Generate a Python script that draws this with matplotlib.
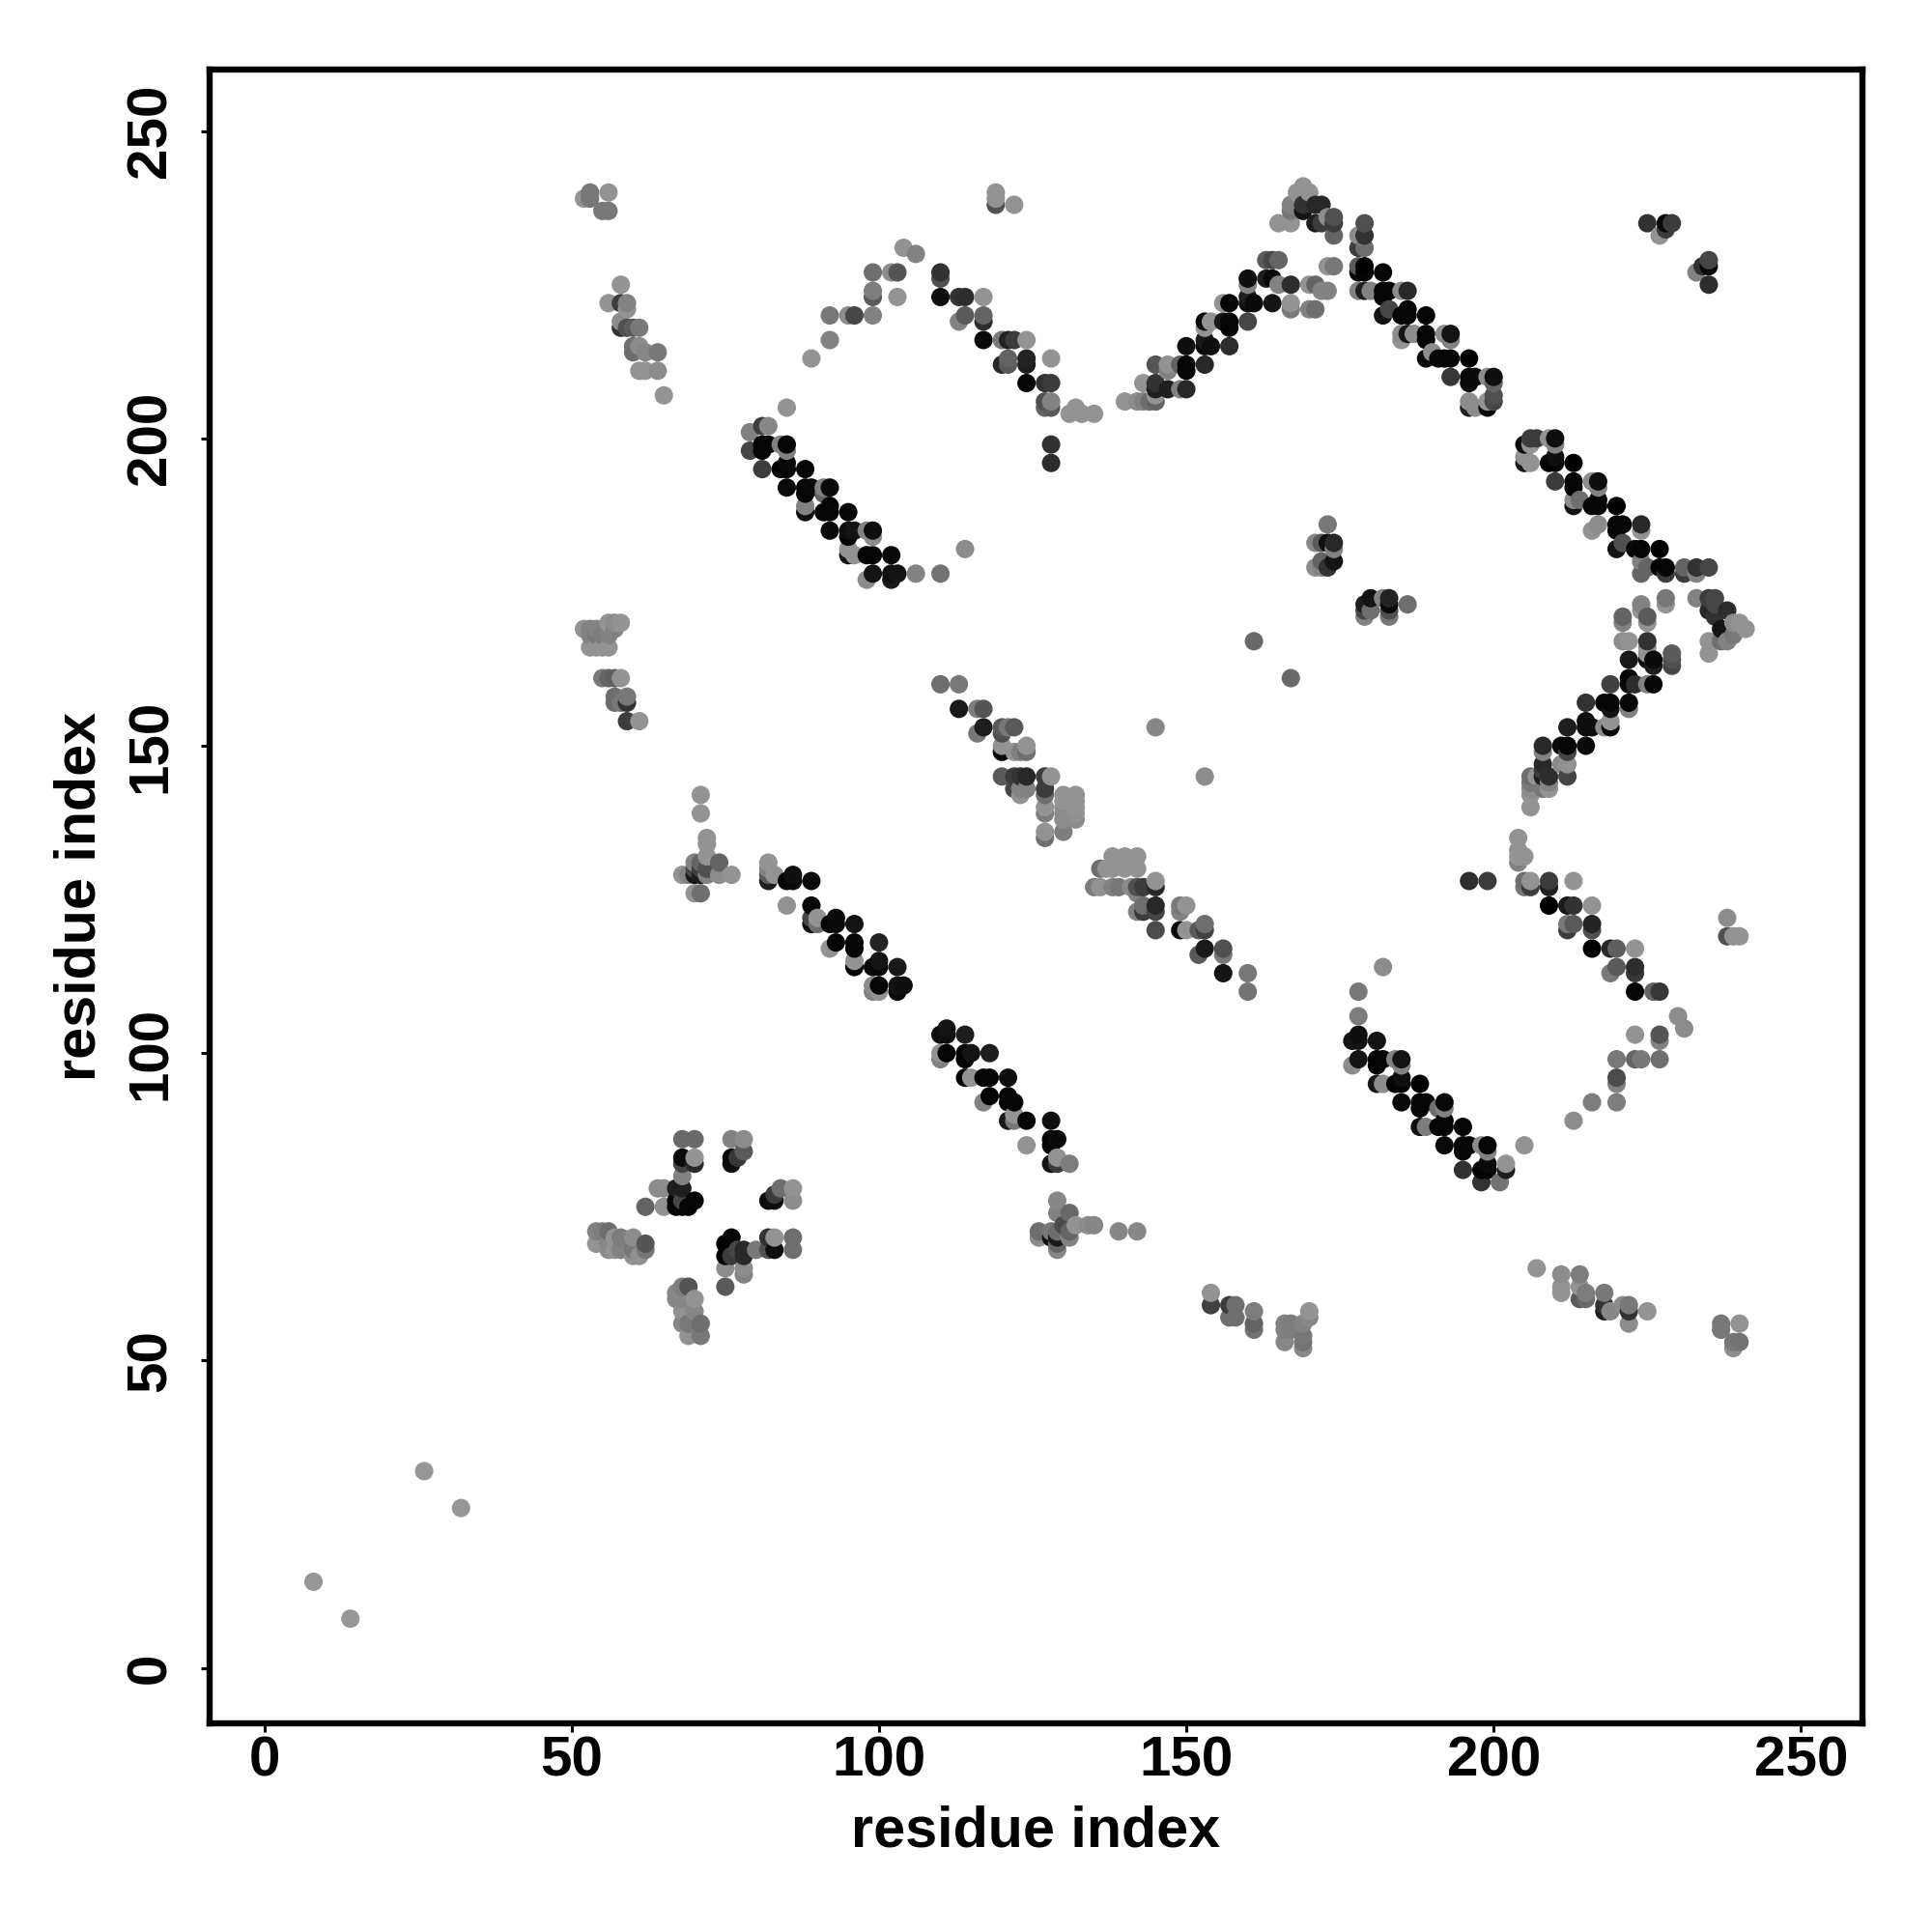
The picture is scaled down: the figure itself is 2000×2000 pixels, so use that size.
import numpy as np
import matplotlib
matplotlib.use('Agg')
import matplotlib.pyplot as plt

plt.rcParams['font.family'] = ['Liberation Sans', 'DejaVu Sans']

corner_x = [8, 14, 26, 32]
corner_y = [14, 8, 32, 26]
corner_g = [150, 150, 150, 150]

topleft_x = [52, 53, 53, 56, 55, 56, 58, 56, 58, 59, 59, 58, 58, 59, 60, 61, 60, 60, 61, 62, 64, 61, 62, 64, 65]
topleft_y = [239, 240, 239, 240, 237, 237, 225, 222, 222, 222, 221, 219, 218, 218, 218, 218, 215, 214, 215, 214, 214, 211, 211, 211, 207]
topleft_g = [147, 120, 120, 147, 120, 120, 147, 147, 60, 130, 147, 140, 50, 80, 90, 120, 110, 110, 140, 135, 120, 147, 147, 140, 147]

arc_x = [89, 92, 92, 95, 96, 99, 99, 99, 99, 102, 103, 103, 104, 106, 110, 110, 110, 113, 114, 117, 113, 114, 117, 117, 117, 120, 121, 120, 121, 121]
arc_y = [213, 216, 220, 220, 220, 220, 223, 224, 227, 227, 227, 223, 231, 230, 227, 226, 223, 223, 223, 223, 219, 220, 220, 219, 216, 216, 216, 212, 213, 212]
arc_g = [147, 130, 120, 140, 70, 130, 90, 125, 110, 140, 85, 147, 147, 130, 50, 80, 15, 50, 45, 147, 130, 90, 100, 45, 10, 120, 35, 40, 100, 90]

arc2_x = [124, 124, 124, 122, 128, 124, 127, 128, 127, 128, 128, 127, 128, 128, 131, 132, 133, 135, 119, 119, 119, 122]
arc2_y = [213, 212, 216, 216, 213, 209, 209, 209, 206, 206, 205, 205, 199, 196, 204, 205, 204, 204, 240, 239, 238, 238]
arc2_g = [35, 30, 147, 60, 147, 5, 50, 60, 80, 130, 90, 100, 50, 45, 147, 147, 147, 147, 147, 147, 80, 147]

rise_x = [140, 142, 143, 143, 144, 145, 145, 145, 145, 145, 147, 147, 147, 149, 150, 150, 150, 149, 150, 153, 153, 154, 153, 153, 153, 154, 156, 157, 157, 157, 156, 157, 160, 160, 161, 160, 160, 160]
rise_y = [206, 206, 209, 206, 206, 206, 207, 209, 208, 212, 208, 212, 211, 208, 208, 212, 211, 212, 215, 212, 215, 215, 216, 218, 219, 219, 219, 219, 218, 215, 222, 222, 219, 222, 222, 223, 226, 225]
rise_g = [147, 140, 147, 130, 110, 100, 147, 50, 30, 85, 30, 147, 130, 130, 40, 5, 5, 100, 15, 40, 10, 15, 25, 147, 10, 147, 25, 5, 5, 45, 147, 5, 70, 15, 10, 30, 15, 130]

peak_x = [163, 164, 164, 165, 167, 167, 167, 163, 164, 165, 170, 171, 171, 170, 172, 173, 173, 174]
peak_y = [226, 226, 222, 225, 225, 222, 221, 229, 229, 229, 225, 225, 221, 221, 224, 224, 228, 228]
peak_g = [30, 10, 20, 130, 45, 147, 120, 90, 70, 100, 147, 100, 110, 130, 130, 130, 147, 120]

crown_x = [165, 167, 167, 167, 168, 169, 170, 169, 169, 171, 172, 171, 172, 173, 174, 174, 174]
crown_y = [235, 235, 238, 237, 240, 241, 240, 237, 238, 238, 238, 235, 235, 236, 236, 235, 233]
crown_g = [147, 147, 130, 120, 147, 147, 147, 20, 50, 40, 40, 30, 60, 140, 80, 60, 100]

fall_x = [179, 179, 178, 178, 179, 178, 179, 179, 178, 182, 178, 179, 180, 182, 182, 183, 185, 186, 182, 183, 186, 185, 186, 189, 185, 185, 186, 187, 189, 189, 189, 190, 191]
fall_y = [235, 233, 233, 231, 231, 228, 228, 227, 227, 227, 224, 224, 224, 224, 223, 224, 224, 224, 220, 221, 221, 220, 220, 220, 217, 216, 217, 217, 217, 216, 213, 214, 213]
fall_g = [80, 50, 140, 60, 110, 90, 0, 5, 10, 5, 130, 30, 130, 5, 5, 5, 140, 40, 20, 70, 5, 5, 5, 5, 140, 147, 20, 140, 5, 5, 10, 140, 5]

fall2_x = [192, 193, 193, 192, 193, 196, 193, 196, 196, 197, 199, 200, 200, 196, 197, 196, 199, 199, 200, 200]
fall2_y = [213, 213, 217, 217, 216, 213, 210, 210, 209, 210, 210, 210, 209, 206, 205, 205, 206, 205, 207, 206]
fall2_g = [5, 5, 20, 140, 130, 0, 55, 10, 10, 10, 140, 15, 100, 140, 140, 30, 147, 10, 80, 70]

right_x = [205, 206, 207, 206, 205, 205, 206, 209, 210, 210, 209, 210, 210, 213, 210, 213, 213, 216, 217, 217, 213, 214, 213, 216, 217, 217, 220]
right_y = [199, 200, 200, 199, 196, 197, 196, 200, 200, 199, 196, 197, 196, 196, 193, 193, 192, 193, 193, 192, 190, 190, 189, 189, 189, 190, 189]
right_g = [15, 60, 60, 147, 20, 147, 147, 147, 15, 130, 5, 15, 5, 0, 60, 5, 5, 140, 15, 130, 140, 110, 20, 5, 5, 5, 0]

right2_x = [217, 216, 220, 221, 220, 224, 224, 220, 221, 224, 223, 227, 224, 225, 224, 227, 228, 228, 231, 231, 233, 233, 235]
right2_y = [186, 185, 186, 186, 185, 186, 185, 182, 183, 182, 182, 182, 180, 179, 178, 179, 179, 178, 179, 178, 179, 178, 179]
right2_g = [140, 147, 5, 5, 5, 40, 147, 20, 80, 5, 10, 0, 130, 100, 100, 5, 5, 60, 100, 60, 50, 130, 70]

topright_x = [225, 228, 228, 227, 229, 235, 235, 234, 233, 235]
topright_y = [235, 235, 234, 233, 235, 229, 228, 228, 227, 225]
topright_g = [50, 10, 60, 147, 60, 70, 10, 50, 130, 45]

vee_x = [221, 221, 224, 224, 225, 225, 228, 228, 221, 222, 225, 225, 222, 225, 225, 226, 226, 229, 229, 229, 222, 222, 223, 225, 226, 219]
vee_y = [171, 170, 173, 172, 171, 170, 174, 173, 167, 167, 167, 166, 164, 165, 164, 164, 163, 165, 164, 163, 161, 160, 160, 160, 160, 160]
vee_g = [100, 130, 130, 147, 90, 147, 120, 147, 140, 147, 50, 147, 25, 147, 10, 10, 30, 90, 80, 70, 5, 10, 45, 130, 5, 65]

vee2_x = [215, 218, 219, 219, 222, 222, 219, 219, 218, 215, 215, 216, 212, 208, 211, 212, 215, 212, 208, 208, 208, 211, 212, 212, 209, 209, 209, 208, 208, 206, 207, 206, 206, 206, 206]
vee2_y = [157, 157, 157, 156, 157, 156, 154, 153, 153, 154, 153, 153, 153, 150, 150, 150, 150, 149, 149, 147, 146, 147, 147, 145, 145, 144, 143, 145, 143, 145, 145, 144, 143, 142, 140]
vee2_g = [50, 5, 5, 20, 5, 130, 147, 10, 140, 15, 15, 15, 30, 40, 10, 5, 10, 70, 130, 40, 60, 140, 147, 70, 45, 130, 147, 30, 120, 110, 147, 120, 140, 147, 147]

tip_x = [233, 235, 236, 235, 236, 236, 238, 235, 235, 237, 237, 238, 239, 239, 240, 241]
tip_y = [174, 174, 174, 172, 173, 171, 172, 167, 165, 169, 167, 167, 170, 168, 170, 169]
tip_g = [130, 60, 70, 40, 70, 50, 45, 147, 147, 20, 110, 130, 140, 120, 147, 147]

low_x = [204, 204, 205, 204, 204, 205, 206, 206, 205, 209, 209, 213, 196, 199, 209, 212, 213, 216, 212, 213, 212, 216, 216, 216, 219, 220, 223, 219, 220, 223, 223, 223, 226, 227]
low_y = [135, 133, 132, 132, 131, 128, 128, 127, 127, 128, 127, 128, 128, 128, 124, 124, 124, 124, 121, 121, 120, 121, 120, 117, 117, 117, 117, 113, 114, 114, 113, 110, 110, 110]
low_g = [147, 147, 147, 147, 130, 110, 147, 60, 120, 60, 30, 147, 45, 60, 0, 25, 50, 147, 120, 90, 60, 35, 80, 0, 40, 95, 147, 120, 90, 45, 55, 5, 100, 55]

low2_x = [230, 231, 223, 227, 227, 220, 223, 224, 227, 220, 220, 220, 216, 213, 238, 238, 239, 240]
low2_y = [106, 104, 103, 103, 102, 99, 99, 99, 99, 96, 95, 92, 92, 89, 122, 119, 119, 119]
low2_g = [140, 140, 147, 85, 130, 120, 100, 120, 110, 75, 130, 125, 125, 140, 140, 80, 147, 147]

sheet_x = [52, 53, 54, 53, 54, 53, 54, 55, 56, 55, 56, 56, 57, 58, 57, 55, 56, 57, 58, 57, 57, 59, 59, 58, 59, 61]
sheet_y = [169, 169, 169, 168, 168, 166, 166, 166, 166, 168, 168, 170, 170, 170, 169, 161, 161, 161, 161, 158, 157, 158, 157, 157, 154, 154]
sheet_g = [147, 130, 130, 130, 120, 147, 147, 147, 147, 125, 130, 147, 140, 147, 130, 120, 100, 95, 147, 110, 110, 120, 50, 120, 60, 147]

mid_x = [110, 113, 113, 116, 117, 117, 116, 120, 121, 120, 120, 120, 120, 122, 122, 124, 123, 124, 122, 123, 124, 122, 123, 123, 124]
mid_y = [160, 160, 156, 156, 156, 153, 152, 153, 153, 152, 150, 149, 145, 149, 153, 150, 149, 149, 145, 145, 145, 143, 143, 142, 143]
mid_g = [110, 120, 25, 125, 85, 30, 120, 90, 120, 80, 147, 10, 90, 147, 90, 147, 125, 110, 60, 50, 40, 70, 130, 147, 130]

bars_x = [127, 128, 127, 127, 127, 127, 127, 127, 130, 132, 130, 132, 130, 132, 130, 132, 130, 132, 130]
bars_y = [145, 145, 143, 142, 140, 139, 136, 135, 142, 142, 141, 141, 140, 140, 139, 139, 138, 138, 136]
bars_g = [60, 147, 60, 110, 147, 125, 147, 110, 147, 147, 147, 147, 140, 147, 140, 145, 140, 140, 125]

block_x = [138, 140, 142, 136, 137, 138, 140, 142, 135, 136, 138, 139, 141, 142, 143, 145, 145, 142, 142, 143, 143, 145, 145, 145]
block_y = [132, 132, 132, 130, 130, 130, 130, 130, 127, 127, 127, 127, 127, 127, 127, 128, 127, 126, 123, 124, 123, 124, 123, 120]
block_g = [147, 147, 147, 110, 147, 147, 147, 147, 125, 147, 130, 120, 140, 80, 60, 147, 40, 130, 130, 110, 60, 40, 70, 75]

block2_x = [149, 149, 150, 149, 150, 152, 153, 153, 152, 153, 156, 156, 156, 160, 160, 153, 145, 161, 167, 178, 178, 182]
block2_y = [124, 123, 124, 120, 120, 120, 121, 120, 116, 117, 117, 116, 113, 113, 110, 145, 153, 167, 161, 110, 106, 114]
block2_g = [120, 130, 147, 10, 147, 90, 110, 65, 90, 25, 80, 120, 20, 120, 115, 140, 135, 105, 105, 120, 125, 140]

knot_x = [173, 171, 172, 173, 174, 174, 171, 172, 172, 173, 174, 179, 180, 179, 180, 179, 182, 183, 183, 183, 183, 186]
knot_y = [186, 183, 183, 183, 183, 182, 179, 179, 180, 179, 180, 173, 174, 172, 172, 171, 174, 174, 173, 172, 171, 173]
knot_g = [120, 135, 90, 15, 40, 130, 140, 130, 100, 50, 20, 30, 20, 70, 110, 130, 130, 35, 10, 80, 120, 110]

strand_x = [82, 82, 82, 82, 83, 85, 86, 86, 89, 85, 89, 89, 89, 90, 90, 92, 93, 93, 96, 92, 93, 96, 96, 100, 96, 96, 99, 100, 100, 103, 99, 99, 100, 103, 104, 103, 100]
strand_y = [131, 130, 129, 128, 129, 128, 129, 128, 128, 124, 124, 122, 121, 122, 121, 121, 122, 121, 121, 117, 118, 118, 117, 118, 115, 114, 114, 115, 114, 114, 111, 110, 111, 111, 111, 110, 110]
strand_g = [147, 130, 90, 30, 147, 5, 15, 10, 10, 147, 5, 70, 15, 147, 110, 5, 10, 10, 20, 147, 5, 5, 5, 35, 147, 5, 10, 20, 5, 25, 140, 130, 5, 20, 15, 10, 147]

upper_x = [85, 79, 81, 82, 79, 81, 81, 82, 84, 85, 85, 81, 84, 85, 85, 88, 85, 88, 88, 89, 91, 92, 91, 88, 88, 91, 92, 92, 95]
upper_y = [205, 201, 202, 202, 198, 199, 198, 199, 199, 199, 198, 195, 195, 195, 196, 195, 192, 192, 191, 192, 192, 192, 191, 189, 188, 188, 189, 188, 188]
upper_g = [147, 130, 60, 135, 70, 5, 5, 5, 130, 5, 130, 60, 5, 5, 10, 5, 10, 5, 5, 10, 130, 10, 100, 130, 15, 5, 5, 5, 5]

upper2_x = [92, 95, 95, 96, 98, 99, 99, 95, 95, 96, 98, 99, 102, 98, 99, 102, 102, 103, 106, 110, 114]
upper2_y = [185, 185, 184, 185, 185, 185, 184, 181, 182, 181, 181, 181, 181, 177, 178, 178, 177, 178, 178, 178, 182]
upper2_g = [10, 15, 5, 20, 130, 15, 140, 20, 147, 147, 5, 5, 10, 140, 20, 15, 25, 20, 130, 115, 140]

cross_x = [71, 71, 72, 72, 72, 70, 71, 74, 72, 70, 71, 68, 69, 70, 71, 72, 74, 76, 70, 71]
cross_y = [142, 139, 135, 134, 132, 131, 131, 131, 130, 130, 130, 129, 129, 129, 129, 129, 129, 129, 126, 126]
cross_g = [147, 147, 147, 147, 147, 130, 100, 100, 80, 70, 60, 147, 130, 25, 30, 130, 140, 147, 147, 110]

clover_x = [68, 70, 76, 78, 68, 68, 70, 70, 76, 76, 77, 78, 68, 64, 65, 67, 68, 65, 62, 67, 67, 68, 68, 69, 70, 82, 83, 83, 84, 86, 86]
clover_y = [86, 86, 86, 86, 83, 82, 83, 82, 83, 82, 83, 84, 80, 78, 78, 78, 78, 75, 75, 76, 75, 76, 75, 75, 76, 76, 76, 77, 78, 78, 76]
clover_g = [105, 105, 130, 140, 10, 70, 147, 40, 10, 15, 55, 90, 130, 140, 140, 30, 30, 145, 100, 5, 5, 70, 5, 5, 5, 10, 15, 60, 110, 147, 140]

clover2_x = [54, 55, 56, 54, 56, 56, 57, 58, 57, 58, 60, 60, 60, 61, 62, 62, 75, 76, 75, 76, 77, 78, 78, 80, 82, 83, 82, 83, 86, 86]
clover2_y = [71, 71, 71, 69, 69, 68, 70, 70, 68, 68, 70, 68, 67, 67, 69, 68, 69, 70, 67, 67, 68, 68, 67, 68, 70, 70, 68, 68, 70, 68]
clover2_g = [130, 125, 110, 147, 135, 140, 147, 125, 147, 130, 140, 120, 147, 145, 85, 120, 0, 5, 5, 60, 70, 40, 40, 120, 50, 147, 80, 15, 110, 110]

clover3_x = [75, 78, 78, 75, 68, 69, 67, 67, 68, 70, 68, 70, 68, 69, 71, 69, 71]
clover3_y = [65, 65, 64, 62, 62, 62, 61, 60, 60, 60, 58, 58, 56, 56, 56, 54, 54]
clover3_g = [140, 140, 130, 90, 125, 85, 135, 135, 135, 147, 145, 135, 135, 120, 110, 145, 120]

helix_x = [111, 110, 111, 114, 110, 111, 114, 115, 118, 110, 114, 114, 115, 117, 118, 121, 118, 117, 121, 121, 122, 121, 122]
helix_y = [104, 103, 103, 103, 100, 100, 100, 100, 100, 99, 99, 96, 96, 96, 96, 96, 93, 92, 93, 92, 92, 89, 90]
helix_g = [20, 15, 15, 30, 147, 5, 5, 20, 30, 130, 5, 5, 147, 5, 5, 15, 5, 130, 5, 5, 5, 25, 147]

helix2_x = [124, 122, 128, 124, 128, 129, 128, 128, 129, 129, 131]
helix2_y = [89, 89, 89, 85, 86, 86, 85, 82, 83, 82, 82]
helix2_g = [5, 120, 15, 147, 5, 10, 5, 20, 147, 60, 125]

star_x = [129, 129, 131, 126, 126, 128, 128, 129, 129, 130, 131, 131, 129, 129, 132, 134, 135, 139, 142]
star_y = [76, 74, 74, 71, 70, 71, 70, 70, 71, 72, 70, 71, 68, 69, 72, 72, 72, 71, 71]
star_g = [135, 130, 105, 110, 140, 120, 20, 25, 110, 75, 130, 100, 135, 100, 147, 140, 135, 135, 135]

patch_x = [154, 154, 157, 158, 157, 158, 161, 161, 161, 166, 166, 166, 167, 167, 169, 169, 169, 170, 170, 169]
patch_y = [61, 59, 59, 59, 57, 57, 58, 56, 55, 56, 55, 53, 56, 55, 53, 52, 56, 58, 57, 54]
patch_g = [147, 65, 60, 110, 110, 110, 125, 100, 115, 130, 130, 135, 125, 125, 115, 135, 130, 147, 135, 120]

band_x = [177, 178, 178, 181, 177, 178, 181, 181, 182, 184, 185, 185, 181, 182, 184, 185, 185, 188, 185, 188, 188, 189, 191, 192, 192]
band_y = [102, 103, 102, 102, 98, 99, 99, 98, 99, 99, 99, 98, 95, 95, 95, 96, 95, 95, 92, 92, 91, 92, 91, 92, 91]
band_g = [20, 15, 20, 20, 140, 20, 5, 5, 5, 130, 20, 130, 25, 140, 5, 15, 5, 0, 10, 5, 5, 5, 110, 10, 130]

band2_x = [188, 189, 191, 192, 192, 195, 192, 195, 195, 196, 198, 199, 199, 195, 198, 199, 199, 202, 202, 198, 201, 205]
band2_y = [88, 88, 88, 88, 89, 88, 85, 85, 84, 85, 85, 85, 84, 81, 81, 81, 82, 81, 82, 79, 79, 85]
band2_g = [15, 125, 5, 5, 5, 5, 10, 5, 5, 5, 140, 5, 130, 50, 5, 5, 10, 30, 147, 50, 115, 147]

tail_x = [207, 211, 214, 211, 211, 214, 214, 215, 215, 218, 218, 218, 219, 221, 222, 222, 222, 225, 237, 237, 240, 239, 240, 239]
tail_y = [65, 64, 64, 62, 61, 62, 60, 61, 60, 61, 59, 58, 58, 59, 59, 58, 56, 58, 56, 55, 56, 53, 53, 52]
tail_g = [147, 140, 125, 147, 147, 147, 90, 125, 105, 120, 50, 30, 135, 140, 120, 50, 140, 147, 120, 120, 147, 120, 115, 140]

groups_x = [corner_x, topleft_x, arc_x, arc2_x, rise_x, peak_x, crown_x, fall_x, fall2_x, right_x, right2_x,
            topright_x, vee_x, vee2_x, tip_x, low_x, low2_x, sheet_x, mid_x, bars_x, block_x, block2_x, knot_x,
            strand_x, upper_x, upper2_x, cross_x, clover_x, clover2_x, clover3_x, helix_x, helix2_x, star_x,
            patch_x, band_x, band2_x, tail_x]
groups_y = [corner_y, topleft_y, arc_y, arc2_y, rise_y, peak_y, crown_y, fall_y, fall2_y, right_y, right2_y,
            topright_y, vee_y, vee2_y, tip_y, low_y, low2_y, sheet_y, mid_y, bars_y, block_y, block2_y, knot_y,
            strand_y, upper_y, upper2_y, cross_y, clover_y, clover2_y, clover3_y, helix_y, helix2_y, star_y,
            patch_y, band_y, band2_y, tail_y]
groups_g = [corner_g, topleft_g, arc_g, arc2_g, rise_g, peak_g, crown_g, fall_g, fall2_g, right_g, right2_g,
            topright_g, vee_g, vee2_g, tip_g, low_g, low2_g, sheet_g, mid_g, bars_g, block_g, block2_g, knot_g,
            strand_g, upper_g, upper2_g, cross_g, clover_g, clover2_g, clover3_g, helix_g, helix2_g, star_g,
            patch_g, band_g, band2_g, tail_g]

ticks = [0, 50, 100, 150, 200, 250]

x = np.concatenate(groups_x)
y = np.concatenate(groups_y)
g = np.concatenate(groups_g) / 255

# points were plotted by x then y, later ones cover earlier ones
order = np.lexsort((y, x))

fig = plt.figure(figsize=(10, 10), dpi=200)
ax = fig.add_axes([217 / 2000, 1 - 1783.5 / 2000, (1928 - 217) / 2000, (1783.5 - 72) / 2000])
ax.scatter(x[order], y[order], s=47, c=g[order], cmap='gray', vmin=0, vmax=1, linewidths=0, clip_on=True)

ax.set_xlim(-8.9, 260)
ax.set_ylim(-8.95, 260)
ax.set_xticks(ticks)
ax.set_yticks(ticks)
ax.tick_params(length=3.2, width=1.1, labelsize=21)
ax.tick_params(axis='x', pad=1.6)
ax.tick_params(axis='y', pad=8.8)
for lab in ax.get_xticklabels() + ax.get_yticklabels():
    lab.set_fontweight('bold')
for lab in ax.get_yticklabels():
    lab.set_rotation(90)
    lab.set_va('center')
for side in ax.spines.values():
    side.set_linewidth(2.3)

ax.set_xlabel('residue index', fontsize=21.4, fontweight='bold')
ax.set_ylabel('residue index', fontsize=21.4, fontweight='bold')
ax.xaxis.set_label_coords(0.5, -0.0498)
ax.yaxis.set_label_coords(-0.0625, 0.5)

fig.savefig('out.png', dpi=200)
